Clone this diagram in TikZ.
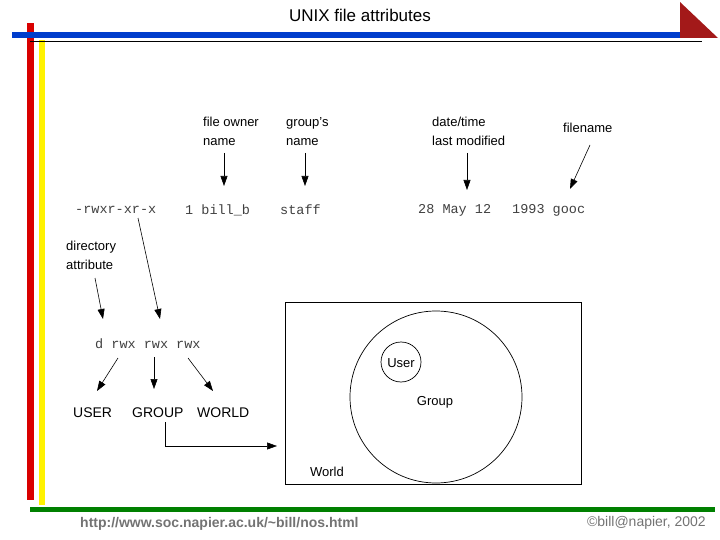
\documentclass[tikz,border=0pt]{standalone}
\usepackage{fontspec}
\setmainfont{Liberation Sans}
\setmonofont{Liberation Mono}
\usetikzlibrary{arrows.meta}
\begin{document}
\begin{tikzpicture}[x=1pt,y=-1pt,
  lab/.style={anchor=north west,align=left,font=\fontsize{13}{19}\selectfont,inner sep=0pt},
  mono/.style={anchor=west,font=\ttfamily\fontsize{13.5}{14}\selectfont,text=black!75,inner sep=0pt},
  caplab/.style={anchor=west,font=\fontsize{14}{16}\selectfont,inner sep=0pt},
  arr/.style={-{Triangle[length=10pt,width=7pt]},line width=0.6pt}]
\useasboundingbox (0,0) rectangle (720,540);
% decoration
\fill[red!85!black] (27,23) rectangle (34,500);
\fill[yellow] (39,40) rectangle (45,505);
\fill[blue!70!cyan!80!black] (12,32) rectangle (702,38);
\draw[line width=0.6pt] (30,41) -- (702,41);
\fill[red!60!black!90] (680,2) -- (718,38) -- (680,38) -- cycle;
\fill[green!50!black] (30,507) rectangle (715,512);
\node[font=\fontsize{17}{19}\selectfont] (title) at (360,15) {UNIX file attributes};
\node[anchor=west,font=\bfseries\fontsize{14}{16}\selectfont,text=black!55,inner sep=0pt] (url) at (80,524) {http://www.soc.napier.ac.uk/\textasciitilde bill/nos.html};
\node[anchor=east,font=\fontsize{14}{16}\selectfont,text=black!55,inner sep=0pt] (copy) at (706,523) {©bill@napier, 2002};
% labels
\node[lab] (own) at (203,117) {file owner\\name};
\node[lab] (grp) at (286,117) {group's\\name};
\node[lab] (dt) at (432,117) {date/time\\last modified};
\node[lab] (fn) at (563,123) {filename};
\node[mono] (m1) at (75,210) {-rwxr-xr-x};
\node[mono] (m2) at (185,210) {1 bill\_b};
\node[mono] (m3) at (280,210) {staff};
\node[mono] (m4) at (418,210) {28 May 12};
\node[mono] (m5) at (512,210) {1993 gooc};
\node[lab] (dir) at (66,241) {directory\\attribute};
\node[mono] (perm) at (95,344) {d rwx rwx rwx};
\node[caplab] (user) at (73,413) {USER};
\node[caplab] (group) at (132,413) {GROUP};
\node[caplab] (world) at (197,413) {WORLD};
\coordinate (a1s) at (224,153); \coordinate (a1e) at (224,186);
\coordinate (a2s) at (305,153); \coordinate (a2e) at (305,186);
\coordinate (a3s) at (467,153); \coordinate (a3e) at (467,190);
\coordinate (a4s) at (590,145); \coordinate (a4e) at (570,189);
\draw[arr] (a1s) -- (a1e);
\draw[arr] (a2s) -- (a2e);
\draw[arr] (a3s) -- (a3e);
\draw[arr] (a4s) -- (a4e);
\coordinate (d1s) at (95,278); \coordinate (d1e) at (103,319);
\coordinate (d2s) at (138,218); \coordinate (d2e) at (160,319);
\draw[arr] (d1s) -- (d1e);
\draw[arr] (d2s) -- (d2e);
\coordinate (p1) at (118,358); \coordinate (p2) at (154,357); \coordinate (p3) at (188,358);
\draw[arr] (p1) -- (97,391);
\draw[arr] (p2) -- (154,389);
\draw[arr] (p3) -- (213,391);
\coordinate (gend) at (277,446);
\draw[arr] (165,422) -- (165,446) -- (gend);
% box
\draw[line width=0.7pt] (285,302) rectangle (581,484);
\draw[line width=0.7pt] (436,397) circle[radius=86];
\draw[line width=0.7pt] (401,362) circle[radius=20];
\node[font=\fontsize{13}{15}\selectfont] (usr) at (401,363) {User};
\node[font=\fontsize{13}{15}\selectfont] (grpc) at (435,402) {Group};
\node[font=\fontsize{13}{15}\selectfont] (wld) at (327,472) {World};
\end{tikzpicture}
\end{document}
